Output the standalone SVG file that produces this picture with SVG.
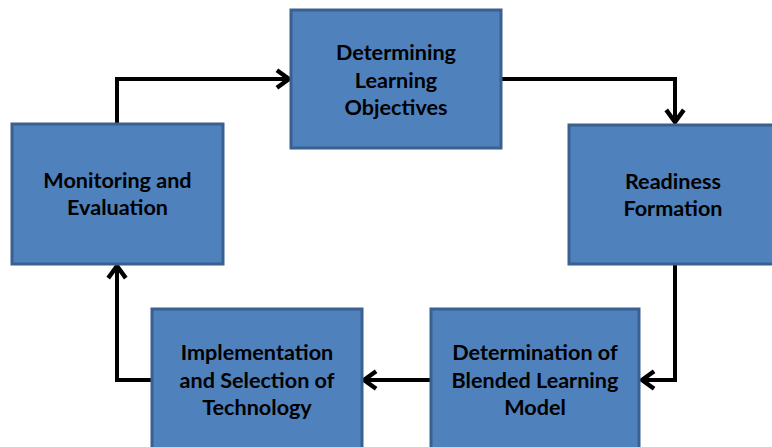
<svg xmlns="http://www.w3.org/2000/svg" width="772" height="447" viewBox="0 0 772 447">
<style>
.box{fill:#4F81BD;stroke:#3A6090;stroke-width:3}
.lbl{font-family:Lato,"Open Sans",sans-serif;font-weight:bold;font-size:21.6px;fill:#000;text-anchor:middle}
.conn{fill:none;stroke:#000;stroke-width:4;stroke-linejoin:miter}
</style>
<defs>
<marker id="arr" markerUnits="userSpaceOnUse" markerWidth="22" markerHeight="22" viewBox="-13 -10 15 20" refX="0" refY="0" orient="auto">
<polyline points="-11,-8 0,0 -11,8" fill="none" stroke="#000" stroke-width="4"/>
</marker>
</defs>
<rect width="772" height="447" fill="#fff"/>
<g id="connectors">
<polyline class="conn" points="117,124 117,79 289,79" marker-end="url(#arr)"/>
<polyline class="conn" points="502,79 675,79 675,122" marker-end="url(#arr)"/>
<polyline class="conn" points="675,265 675,380 642,380" marker-end="url(#arr)"/>
<polyline class="conn" points="430,380 364,380" marker-end="url(#arr)"/>
<polyline class="conn" points="151,380 117,380 117,266" marker-end="url(#arr)"/>
</g>
<g id="node-objectives">
<rect class="box" x="291" y="10" width="210" height="138"/>
<text class="lbl" x="396" y="60">Determining</text>
<text class="lbl" x="396" y="87.5">Learning</text>
<text class="lbl" x="396" y="115">Objectives</text>
</g>
<g id="node-readiness">
<rect class="box" x="569" y="125" width="210" height="139"/>
<text class="lbl" x="673" y="189">Readiness</text>
<text class="lbl" x="673" y="216">Formation</text>
</g>
<g id="node-blended">
<rect class="box" x="431" y="309" width="208" height="150"/>
<text class="lbl" x="535" y="360">Determination of</text>
<text class="lbl" x="535" y="388">Blended Learning</text>
<text class="lbl" x="535" y="415">Model</text>
</g>
<g id="node-implementation">
<rect class="box" x="152" y="309" width="210" height="150"/>
<text class="lbl" x="257" y="360">Implementation</text>
<text class="lbl" x="257" y="388">and Selection of</text>
<text class="lbl" x="257" y="415">Technology</text>
</g>
<g id="node-monitoring">
<rect class="box" x="12" y="124" width="211" height="140"/>
<text class="lbl" x="117.5" y="188">Monitoring and</text>
<text class="lbl" x="117.5" y="215">Evaluation</text>
</g>
</svg>
